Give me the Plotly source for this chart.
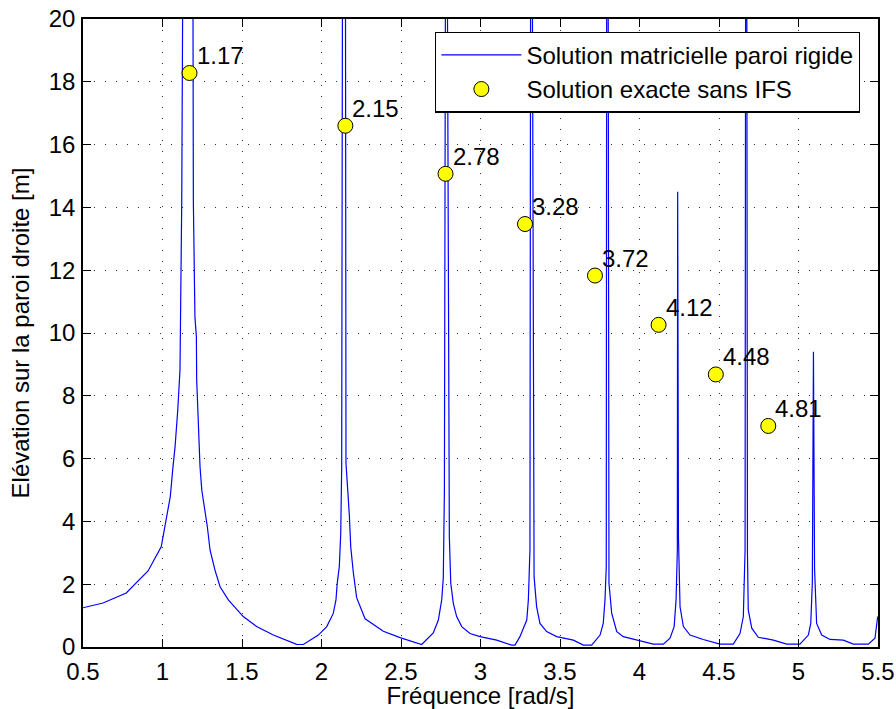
import plotly.graph_objects as go

freq = [0.500, 0.626, 0.772, 0.909, 0.992, 1.024, 1.049, 1.064, 1.079, 1.096, 1.110, 1.121, 1.131,
        1.190, 1.194, 1.204, 1.213, 1.215, 1.225, 1.236, 1.247, 1.267, 1.282, 1.299, 1.330, 1.362,
        1.414, 1.508, 1.592, 1.697, 1.781, 1.844, 1.886, 1.980, 2.033, 2.074, 2.091, 2.099, 2.112,
        2.121, 2.127, 2.133, 2.150, 2.154, 2.175, 2.184, 2.200, 2.221, 2.274, 2.389, 2.494, 2.599,
        2.630, 2.703, 2.735, 2.756, 2.766, 2.773, 2.781, 2.789, 2.804, 2.813, 2.829, 2.850, 2.882,
        2.934, 2.997, 3.102, 3.196, 3.217, 3.248, 3.291, 3.301, 3.311, 3.316, 3.324, 3.337, 3.353,
        3.374, 3.416, 3.479, 3.584, 3.647, 3.699, 3.752, 3.772, 3.783, 3.791, 3.794, 3.802, 3.808,
        3.825, 3.857, 3.898, 3.982, 4.087, 4.150, 4.192, 4.218, 4.230, 4.238, 4.240, 4.245, 4.255,
        4.276, 4.318, 4.401, 4.506, 4.590, 4.632, 4.653, 4.664, 4.668, 4.674, 4.679, 4.684, 4.706,
        4.747, 4.842, 4.926, 5.009, 5.062, 5.077, 5.087, 5.094, 5.101, 5.114, 5.146, 5.198, 5.282,
        5.345, 5.439, 5.481, 5.498]
elev = [1.25, 1.40, 1.72, 2.42, 3.19, 4.04, 4.79, 5.64, 6.38, 7.55, 8.82, 14.2, 25.0,
        25.0, 14.2, 10.5, 9.9, 8.5, 6.8, 5.74, 5.0, 4.36, 3.83, 3.09, 2.45, 1.92,
        1.50, 0.97, 0.65, 0.38, 0.22, 0.085, 0.08, 0.38, 0.65, 1.07, 1.5, 2.03, 2.56,
        3.62, 5.74, 25.0, 25.0, 5.86, 4.2, 3.18, 2.38, 1.57, 0.9, 0.5, 0.3, 0.12,
        0.08, 0.45, 0.86, 1.5, 2.2, 5.0, 25.0, 25.0, 3.51, 2.03, 1.39, 0.97, 0.65,
        0.43, 0.33, 0.22, 0.06, 0.06, 0.33, 0.86, 1.5, 3.09, 25.0, 25.0, 2.24, 1.28,
        0.75, 0.49, 0.33, 0.22, 0.06, 0.06, 0.38, 0.75, 1.5, 2.56, 25.0, 25.0, 2.03,
        1.08, 0.49, 0.33, 0.22, 0.09, 0.09, 0.28, 0.65, 1.5, 3.09, 14.5, 3.5, 1.28,
        0.65, 0.38, 0.24, 0.09, 0.09, 0.43, 0.97, 3.09, 25.0, 25.0, 3.0, 1.18, 0.6,
        0.31, 0.22, 0.09, 0.09, 0.38, 0.75, 2.03, 9.4, 2.5, 0.75, 0.38, 0.24, 0.22,
        0.09, 0.09, 0.28, 0.97]

# Exact solution points
exact_freq = [1.17, 2.15, 2.78, 3.28, 3.72, 4.12, 4.48, 4.81]
exact_elev = [18.28, 16.60, 15.07, 13.47, 11.83, 10.26, 8.68, 7.04]
exact_labels = [f"{v:.2f}" for v in exact_freq]

x_ticks = [0.5, 1, 1.5, 2, 2.5, 3, 3.5, 4, 4.5, 5, 5.5]
y_ticks = [0, 2, 4, 6, 8, 10, 12, 14, 16, 18, 20]

FONT = "Liberation Sans, Arial, sans-serif"
FS = 24

fig = go.Figure()
fig.add_trace(go.Scatter(
    x=freq, y=elev, mode="lines", name="Solution matricielle paroi rigide",
    line=dict(color="#0000FF", width=1.2)))
fig.add_trace(go.Scatter(
    x=exact_freq, y=exact_elev, mode="markers", name="Solution exacte sans IFS",
    marker=dict(color="#FFFF00", size=15, line=dict(color="black", width=1))))

for xv, yv, t in zip(exact_freq, exact_elev, exact_labels):
    fig.add_annotation(x=xv, y=yv, text=t, showarrow=False, xanchor="left", yanchor="bottom",
                       xshift=5, yshift=2, font=dict(family=FONT, size=FS, color="black"))

axis_common = dict(
    showline=True, linecolor="black", linewidth=1.5, mirror="ticks",
    ticks="inside", ticklen=8, tickcolor="black", tickwidth=1,
    showgrid=True, gridcolor="#333333", gridwidth=1, griddash="1px,10px",
    zeroline=False, automargin=False,
    tickfont=dict(family=FONT, size=FS, color="black"),
)

fig.update_xaxes(range=[0.5, 5.5], tickvals=x_ticks, ticklabelstandoff=2,
                 title=dict(text="Fréquence [rad/s]", font=dict(family=FONT, size=FS, color="black"), standoff=6),
                 **axis_common)
fig.update_yaxes(range=[0, 20], tickvals=y_ticks, ticklabelstandoff=1,
                 title=dict(text="Elévation sur la paroi droite [m]", font=dict(family=FONT, size=FS, color="black"), standoff=12),
                 **axis_common)

fig.update_layout(
    width=896, height=709,
    margin=dict(l=83, r=18, t=19, b=62, autoexpand=False),
    plot_bgcolor="white", paper_bgcolor="white",
    font=dict(family=FONT, size=FS, color="black"),
    legend=dict(x=0.443, y=0.98, xanchor="left", yanchor="top",
                bgcolor="white", bordercolor="black", borderwidth=1.2,
                font=dict(family=FONT, size=FS, color="black"), itemwidth=80,
                tracegroupgap=0),
    showlegend=True,
)

fig.write_html("out.html")
